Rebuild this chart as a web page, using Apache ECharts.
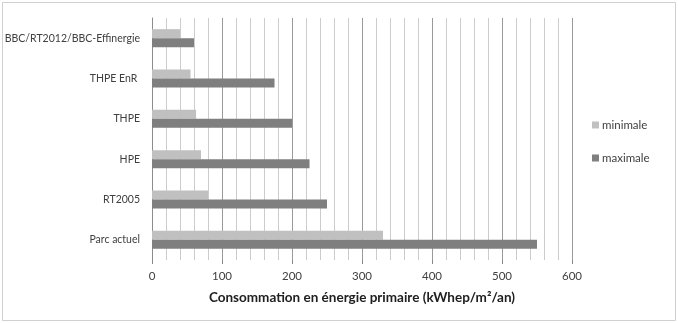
<!DOCTYPE html>
<html>
<head>
<meta charset="utf-8">
<script src="https://cdn.jsdelivr.net/npm/echarts@6/dist/echarts.min.js"></script>
<style>
html,body{margin:0;padding:0;background:#fff;}
#chart{width:678px;height:323px;}
</style>
</head>
<body>
<div id="chart"></div>
<script>
// categories, top to bottom
var categories = ['BBC/RT2012/BBC-Effinergie', 'THPE EnR ', 'THPE', 'HPE', 'RT2005', 'Parc actuel'];
var minimale = [40, 55, 63, 70, 80, 330];
var maximale = [60, 175, 200, 225, 250, 550];
var seriesNames = ['minimale', 'maximale'];
var axisTitle = 'Consommation en énergie primaire (kWhep/m²/an)';

var chart = echarts.init(document.getElementById('chart'));

var option = {
	animation: false,
	textStyle: { fontFamily: 'Lato' },
	graphic: [{
		type: 'rect',
		shape: { x: 2.5, y: 2.5, width: 673, height: 318 },
		style: { fill: 'none', stroke: '#d0d0d0', lineWidth: 1 }
	}],
	grid: { left: 152, right: 106, top: 18, bottom: 63 },
	legend: {
		orient: 'vertical',
		left: 587,
		top: 114,
		itemWidth: 7,
		itemHeight: 7,
		itemGap: 21,
		icon: 'rect',
		data: seriesNames,
		textStyle: { fontSize: 11.5, color: '#404040', fontFamily: 'Lato', padding: [0, 0, 0, -2] }
	},
	xAxis: {
		type: 'value',
		min: 0,
		max: 600,
		interval: 100,
		name: axisTitle,
		nameLocation: 'middle',
		nameGap: 31,
		nameTextStyle: { fontSize: 13.5, fontWeight: 'bold', color: '#202020', fontFamily: 'Lato' },
		axisLine: { show: false },
		axisTick: { show: true, length: 4, lineStyle: { color: '#888' } },
		axisLabel: { fontSize: 11.5, color: '#404040', margin: 10 },
		splitLine: { show: true, lineStyle: { color: '#9a9a9a', width: 1 } },
		minorTick: { show: false, splitNumber: 5 },
		minorSplitLine: { show: true, lineStyle: { color: '#cccccc', width: 1 } }
	},
	yAxis: {
		type: 'category',
		inverse: true,
		data: categories,
		axisLine: { show: true, lineStyle: { color: '#8c8c8c' } },
		axisTick: { show: false },
		axisLabel: { fontSize: 10.5, color: '#404040', margin: 12 }
	},
	series: [
		{
			name: seriesNames[0],
			type: 'bar',
			data: minimale,
			barWidth: 9,
			barGap: '0%',
			itemStyle: { color: '#c0c0c0' }
		},
		{
			name: seriesNames[1],
			type: 'bar',
			data: maximale,
			barWidth: 9,
			barGap: '0%',
			itemStyle: { color: '#7f7f7f' }
		}
	]
};
chart.setOption(option);
</script>
</body>
</html>
